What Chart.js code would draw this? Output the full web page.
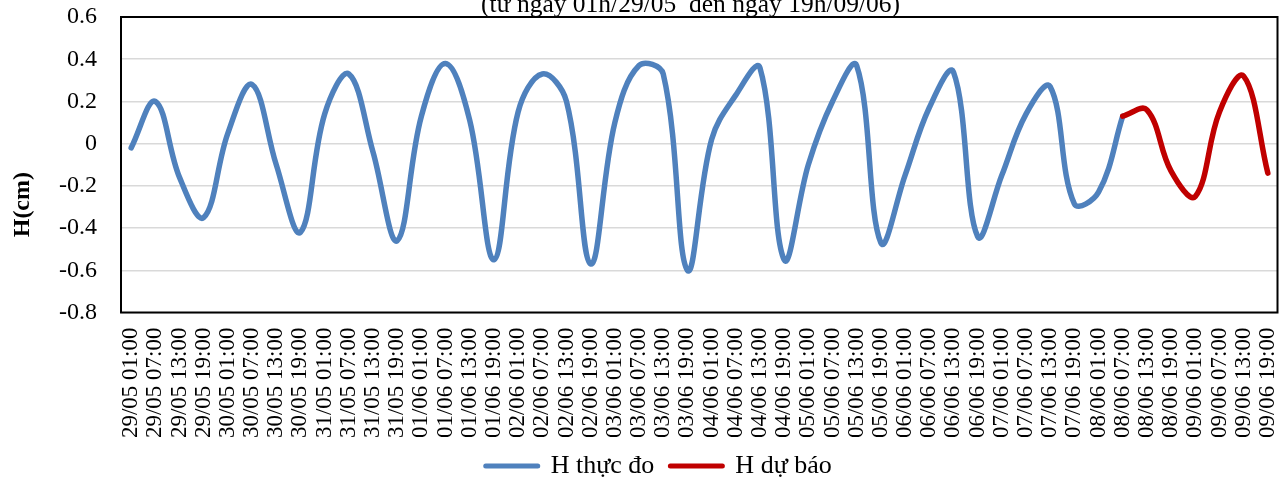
<!DOCTYPE html>
<html>
<head>
<meta charset="utf-8">
<script src="https://cdn.jsdelivr.net/npm/chart.js@4.4.1/dist/chart.umd.min.js"></script>
<style>
html,body{margin:0;padding:0;background:#ffffff;}
#wrap{width:1287px;height:479px;position:relative;overflow:hidden;}
</style>
</head>
<body>
<div id="wrap"><canvas id="c" width="1287" height="479"></canvas></div>
<script>
// ---- data ----
const tickLabels = [
  '29/05 01:00','29/05 07:00','29/05 13:00','29/05 19:00',
  '30/05 01:00','30/05 07:00','30/05 13:00','30/05 19:00',
  '31/05 01:00','31/05 07:00','31/05 13:00','31/05 19:00',
  '01/06 01:00','01/06 07:00','01/06 13:00','01/06 19:00',
  '02/06 01:00','02/06 07:00','02/06 13:00','02/06 19:00',
  '03/06 01:00','03/06 07:00','03/06 13:00','03/06 19:00',
  '04/06 01:00','04/06 07:00','04/06 13:00','04/06 19:00',
  '05/06 01:00','05/06 07:00','05/06 13:00','05/06 19:00',
  '06/06 01:00','06/06 07:00','06/06 13:00','06/06 19:00',
  '07/06 01:00','07/06 07:00','07/06 13:00','07/06 19:00',
  '08/06 01:00','08/06 07:00','08/06 13:00','08/06 19:00',
  '09/06 01:00','09/06 07:00','09/06 13:00','09/06 19:00'
];
const hMeasured = [
  -0.02, 0.20, -0.16, -0.35,
   0.05, 0.28, -0.10, -0.42,
   0.14, 0.33, -0.04, -0.46,
   0.13, 0.38,  0.11, -0.55,
   0.15, 0.33,  0.20, -0.57,
   0.10, 0.37,  0.33, -0.60,
   0.02, 0.23,  0.36, -0.55,
  -0.10, 0.20,  0.37, -0.47,
  -0.15, 0.17,  0.34, -0.44,
  -0.15, 0.14,  0.27, -0.285,
  -0.23, 0.13
];
const hForecast = [0.13, 0.16, -0.13, -0.25, 0.15, 0.32, -0.14];
const seriesNames = ['H thực đo', 'H dự báo'];
const seriesColors = ['#4F81BD', '#C00000'];
const yTickValues = [-0.8, -0.6, -0.4, -0.2, 0, 0.2, 0.4, 0.6];
const chartTitle = '(từ ngày 01h/29/05  đến ngày 19h/09/06)';
const yAxisTitle = 'H(cm)';

// ---- build ----
const forecastStart = hMeasured.length - 1;
const measuredPts = hMeasured.map((v, i) => ({x: i, y: v}));
const forecastPts = hForecast.map((v, j) => ({x: forecastStart + j, y: v}));

const FONT = "'Liberation Serif', 'Times New Roman', serif";

const framePlugin = {
  id: 'frame',
  beforeDatasetsDraw(chart) {
    const {ctx, chartArea: a} = chart;
    ctx.save();
    ctx.strokeStyle = '#000000';
    ctx.lineWidth = 2;
    ctx.strokeRect(a.left, a.top, a.right - a.left, a.bottom - a.top);
    ctx.restore();
  }
};

const textPlugin = {
  id: 'texts',
  afterDraw(chart) {
    const {ctx, chartArea: a} = chart;
    ctx.save();
    ctx.fillStyle = '#000000';
    ctx.font = '25.5px ' + FONT;
    ctx.textAlign = 'center';
    ctx.textBaseline = 'alphabetic';
    ctx.fillText(chartTitle, a.left + (a.right - a.left) * 0.4925, 12);
    ctx.translate(22.5, a.top + (a.bottom - a.top) * 0.635);
    ctx.rotate(-Math.PI / 2);
    ctx.font = 'bold 24px ' + FONT;
    ctx.textBaseline = 'middle';
    ctx.fillText(yAxisTitle, 0, 0);
    ctx.restore();
  }
};

new Chart(document.getElementById('c'), {
  type: 'line',
  data: {
    datasets: [
      {
        label: seriesNames[0],
        data: measuredPts,
        borderColor: seriesColors[0],
        backgroundColor: seriesColors[0],
        borderWidth: 5.5,
        pointRadius: 0,
        tension: 0.38,
        borderCapStyle: 'round',
        borderJoinStyle: 'round',
        fill: false,
        order: 1
      },
      {
        label: seriesNames[1],
        data: forecastPts,
        borderColor: seriesColors[1],
        backgroundColor: seriesColors[1],
        borderWidth: 5.5,
        pointRadius: 0,
        tension: 0.38,
        borderCapStyle: 'round',
        borderJoinStyle: 'round',
        fill: false,
        order: 0
      }
    ]
  },
  options: {
    responsive: false,
    animation: false,
    devicePixelRatio: 1,
    layout: { padding: { left: 40, right: 9.5, top: 17, bottom: -10 } },
    scales: {
      x: {
        type: 'linear',
        min: -0.42,
        max: tickLabels.length - 1 + 0.4,
        grid: { display: false, drawTicks: false },
        border: { display: false },
        afterBuildTicks(scale) {
          scale.ticks = tickLabels.map((_, i) => ({ value: i }));
        },
        afterFit(scale) {
          scale.height = 124.5;
          scale.paddingLeft = 0; scale.paddingRight = 0;
          scale.paddingTop = 0; scale.paddingBottom = 0;
        },
        ticks: {
          autoSkip: false,
          minRotation: 90,
          maxRotation: 90,
          padding: 15,
          color: '#000000',
          font: { family: FONT, size: 23 },
          callback: (v, i) => tickLabels[i]
        }
      },
      y: {
        type: 'linear',
        min: yTickValues[0],
        max: yTickValues[yTickValues.length - 1],
        grid: { color: '#D9D9D9', lineWidth: 1.5, drawTicks: false },
        border: { display: false },
        afterBuildTicks(scale) {
          scale.ticks = yTickValues.map(v => ({ value: v }));
        },
        afterFit(scale) {
          scale.width = 81;
          scale.paddingLeft = 0; scale.paddingRight = 0;
          scale.paddingTop = 0; scale.paddingBottom = 0;
        },
        ticks: {
          padding: 24,
          color: '#000000',
          font: { family: FONT, size: 24 },
          callback: (v) => String(Math.round(v * 10) / 10)
        }
      }
    },
    plugins: {
      title: { display: false },
      tooltip: { enabled: false },
      legend: {
        display: true,
        position: 'bottom',
        labels: {
          color: '#000000',
          font: { family: FONT, size: 26 },
          usePointStyle: true,
          pointStyleWidth: 52,
          padding: 16,
          generateLabels: (chart) => chart.data.datasets.map((ds, i) => ({
            text: ds.label,
            fillStyle: ds.borderColor,
            strokeStyle: ds.borderColor,
            lineWidth: 5,
            lineCap: 'round',
            pointStyle: 'line',
            hidden: false,
            datasetIndex: i,
            fontColor: '#000000'
          }))
        }
      }
    }
  },
  plugins: [framePlugin, textPlugin]
});
</script>
</body>
</html>
